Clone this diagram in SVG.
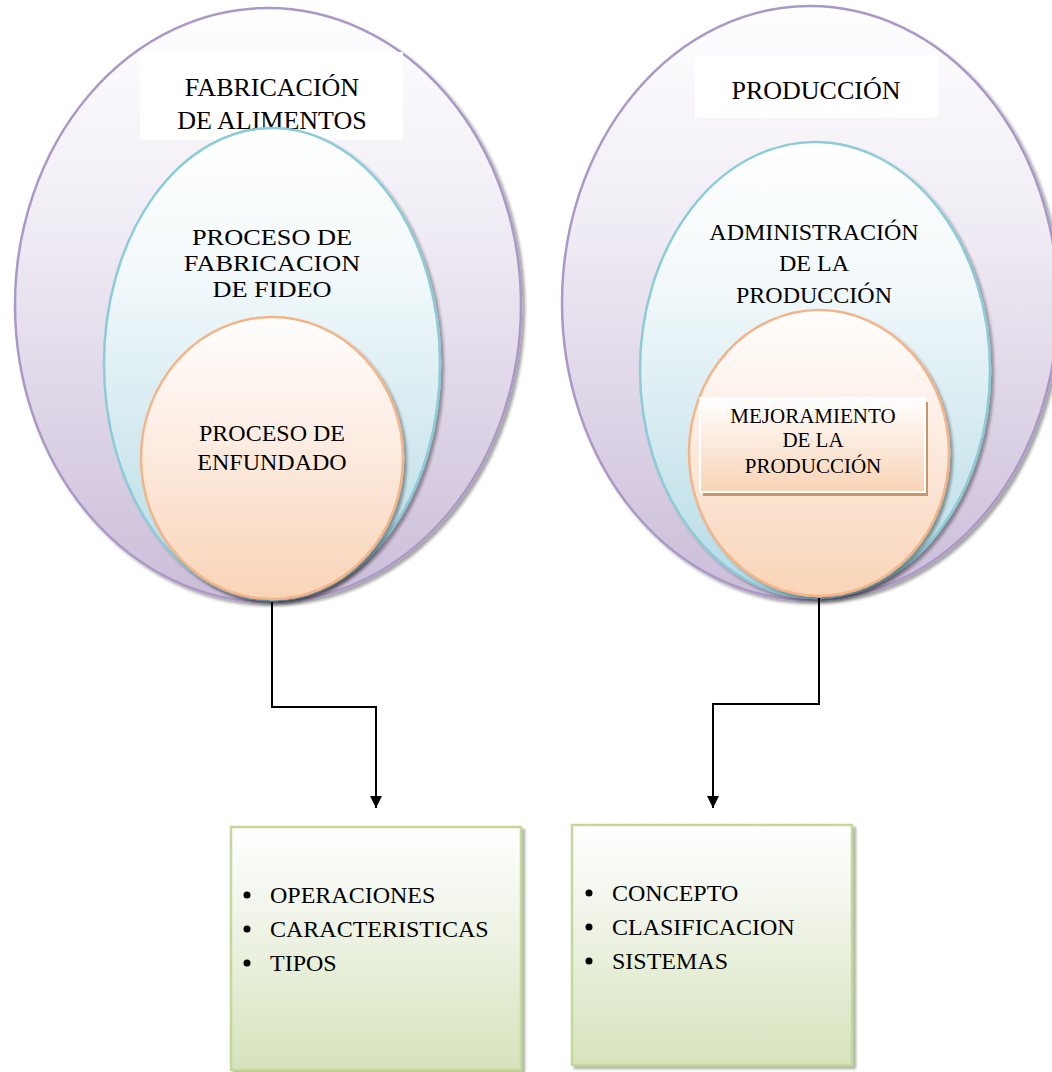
<svg xmlns="http://www.w3.org/2000/svg" width="1052" height="1072" viewBox="0 0 1052 1072">
  <style>
    text { font-family: "Liberation Serif", "Tinos", "Times New Roman", "DejaVu Serif", serif; fill: #000; }
    .t { text-anchor: middle; }
    .lg { font-size: 26px; }
    .cd { font-size: 22.5px; }
    .md { font-size: 24px; }
    .sm { font-size: 24px; }
    .xs { font-size: 21px; }
    .li { font-size: 24px; }
    .outer { fill: url(#gPurple); stroke: #ab98c6; stroke-width: 2.5; filter: url(#sh); }
    .mid { fill: url(#gBlue); stroke: #8ccbd8; stroke-width: 2.5; filter: url(#sh); }
    .inner { fill: url(#gPeach); stroke: #f5b487; stroke-width: 2.5; filter: url(#sh); }
    .box { fill: url(#gGreen); stroke: #c4d79d; stroke-width: 2.5; filter: url(#shBox); }
    .conn { fill: none; stroke: #000; stroke-width: 2; }
  </style>
  <defs>
    <linearGradient id="gPurple" x1="0" y1="0" x2="0" y2="1">
      <stop offset="0" stop-color="#fefeff"/>
      <stop offset="0.35" stop-color="#f1edf5"/>
      <stop offset="1" stop-color="#cbbdd9"/>
    </linearGradient>
    <linearGradient id="gBlue" x1="0" y1="0" x2="0" y2="1">
      <stop offset="0" stop-color="#ffffff"/>
      <stop offset="0.3" stop-color="#f3f9fb"/>
      <stop offset="1" stop-color="#b4dbe5"/>
    </linearGradient>
    <linearGradient id="gPeach" x1="0" y1="0" x2="0" y2="1">
      <stop offset="0" stop-color="#fffefd"/>
      <stop offset="0.35" stop-color="#fdf0e8"/>
      <stop offset="1" stop-color="#f9d4b7"/>
    </linearGradient>
    <linearGradient id="gPeachBox" x1="0" y1="0" x2="0" y2="1">
      <stop offset="0" stop-color="#ffffff"/>
      <stop offset="1" stop-color="#f8d3b5"/>
    </linearGradient>
    <linearGradient id="gGreen" x1="0" y1="0" x2="0" y2="1">
      <stop offset="0" stop-color="#ffffff"/>
      <stop offset="0.35" stop-color="#f1f5ea"/>
      <stop offset="1" stop-color="#d6e3bc"/>
    </linearGradient>
    <filter id="sh" x="-10%" y="-10%" width="125%" height="125%">
      <feDropShadow dx="3" dy="3" stdDeviation="1.5" flood-color="#000" flood-opacity="0.35"/>
    </filter>
    <filter id="shBox" x="-10%" y="-10%" width="125%" height="125%">
      <feDropShadow dx="3" dy="3" stdDeviation="0.8" flood-color="#7f8a6a" flood-opacity="0.6"/>
    </filter>
    <marker id="arrow" viewBox="0 0 10 10" refX="10" refY="5" markerWidth="12" markerHeight="12" orient="auto" markerUnits="userSpaceOnUse">
      <path d="M0,0 L10,5 L0,10 Z" fill="#000"/>
    </marker>
  </defs>

  <!-- left set of nested ellipses -->
  <g id="fabricacion-alimentos">
    <ellipse class="outer" cx="268" cy="305" rx="253" ry="297"/>
    <rect x="140" y="52" width="263" height="88" fill="#ffffff"/>
    <text class="t lg" x="272" y="96">FABRICACIÓN</text>
    <text class="t lg" x="272" y="129">DE ALIMENTOS</text>
  </g>
  <g id="proceso-fabricacion-fideo">
    <ellipse class="mid" cx="272" cy="364" rx="168" ry="236"/>
    <!-- three tight lines, widened horizontally -->
    <g transform="translate(272,0) scale(1.17,1)">
      <text class="t cd" x="0" y="245">PROCESO DE</text>
      <text class="t cd" x="0" y="271">FABRICACION</text>
      <text class="t cd" x="0" y="297">DE FIDEO</text>
    </g>
  </g>
  <g id="proceso-enfundado">
    <ellipse class="inner" cx="272" cy="458" rx="131" ry="141"/>
    <text class="t sm" x="272" y="441">PROCESO DE</text>
    <text class="t sm" x="272" y="470">ENFUNDADO</text>
  </g>

  <!-- right set of nested ellipses -->
  <g id="produccion">
    <ellipse class="outer" cx="810" cy="303" rx="248" ry="297"/>
    <rect x="695" y="55" width="243" height="63" fill="#ffffff"/>
    <text class="t lg" x="816" y="99">PRODUCCIÓN</text>
  </g>
  <g id="administracion-produccion">
    <ellipse class="mid" cx="815" cy="370" rx="175" ry="228"/>
    <text class="t md" x="814" y="240">ADMINISTRACIÓN</text>
    <text class="t md" x="814" y="271">DE LA</text>
    <text class="t md" x="814" y="303">PRODUCCIÓN</text>
  </g>
  <g id="mejoramiento-produccion">
    <ellipse class="inner" cx="819" cy="453" rx="130" ry="143"/>
    <rect x="703" y="402" width="225" height="94" fill="#c9956c"/>
    <rect x="700" y="398" width="225" height="94" fill="url(#gPeachBox)" stroke="#ffffff" stroke-width="2"/>
    <text class="t xs" x="813" y="423">MEJORAMIENTO</text>
    <text class="t xs" x="813" y="447">DE LA</text>
    <text class="t xs" x="813" y="473">PRODUCCIÓN</text>
  </g>

  <!-- connectors -->
  <g id="connectors">
    <path class="conn" d="M272,602 V707 H376 V808" marker-end="url(#arrow)"/>
    <path class="conn" d="M819,598 V704 H713 V808" marker-end="url(#arrow)"/>
  </g>

  <!-- bullet boxes -->
  <g id="lista-fideo">
    <rect class="box" x="231" y="827" width="290" height="243"/>
    <circle cx="247" cy="895" r="3.5" fill="#000"/>
    <circle cx="247" cy="929" r="3.5" fill="#000"/>
    <circle cx="247" cy="963" r="3.5" fill="#000"/>
    <text class="li" x="270" y="903">OPERACIONES</text>
    <text class="li" x="270" y="937">CARACTERISTICAS</text>
    <text class="li" x="270" y="971">TIPOS</text>
  </g>
  <g id="lista-produccion">
    <rect class="box" x="572" y="825" width="280" height="240"/>
    <circle cx="589" cy="893" r="3.5" fill="#000"/>
    <circle cx="589" cy="927" r="3.5" fill="#000"/>
    <circle cx="589" cy="961" r="3.5" fill="#000"/>
    <text class="li" x="612" y="901">CONCEPTO</text>
    <text class="li" x="612" y="935">CLASIFICACION</text>
    <text class="li" x="612" y="969">SISTEMAS</text>
  </g>
</svg>
